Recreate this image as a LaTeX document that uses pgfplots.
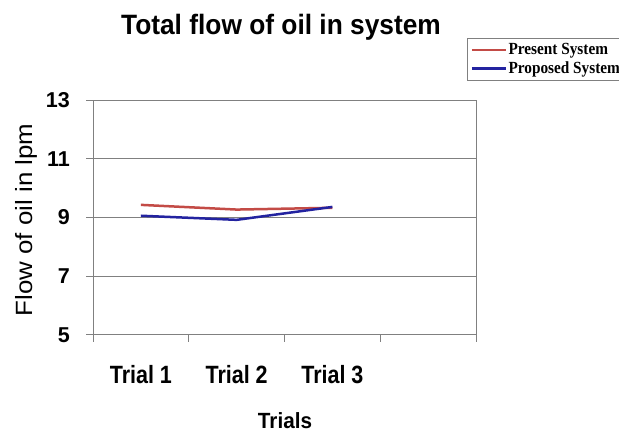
\documentclass[border=0pt]{standalone}
\usepackage{fontspec}
\usepackage{pgfplots}
\pgfplotsset{compat=1.18}
\setmainfont{Liberation Sans}
\newfontfamily\titlefont[FakeStretch=0.94]{Liberation Sans}
\newfontfamily\xtickfont[FakeStretch=0.86]{Liberation Sans}
\newfontfamily\ylabelfont[FakeStretch=1.1]{Liberation Sans}
\newfontfamily\legendfont[FakeStretch=0.9]{Liberation Serif}
\definecolor{present}{RGB}{195,75,70}
\definecolor{proposed}{RGB}{35,35,160}
\definecolor{axisgray}{RGB}{128,128,128}

\begin{document}
\begin{tikzpicture}
\begin{axis}[
  at={(93bp,104bp)}, anchor=south west,
  scale only axis, width=383bp, height=235bp,
  xmin=0, xmax=4, ymin=5, ymax=13,
  xtick={0,1,2,3,4}, xticklabels={},
  extra x ticks={0.5,1.5,2.5},
  extra x tick labels={Trial 1,Trial 2,Trial 3},
  extra x tick style={major tick length=0pt},
  ytick={5,7,9,11,13},
  ymajorgrids,
  grid style={axisgray, line width=1bp},
  axis line style={axisgray, line width=1bp},
  tick style={axisgray, line width=1bp},
  tick align=outside, major tick length=7bp, tick pos=left,
  /pgf/number format/assume math mode=true,
  xticklabel style={font=\xtickfont\bfseries\fontsize{25bp}{25bp}\selectfont,
    anchor=base, inner sep=0pt, yshift=-48bp},
  yticklabel style={font=\bfseries\fontsize{21.5bp}{21.5bp}\selectfont,
    anchor=east, inner sep=0pt, xshift=-16bp},
  legend style={at={(0.9765,1.2638)}, anchor=north west, draw=axisgray,
    fill=white, line width=1bp,
    font=\legendfont\bfseries\fontsize{17bp}{17bp}\selectfont,
    inner xsep=3bp, inner ysep=3.5bp, row sep=2.5bp,
    nodes={inner sep=1.5bp}},
  legend cell align=left,
  legend image code/.code={\draw[#1, line width=2.5bp] (0bp,0bp) -- (34bp,0bp);},
]
\addplot[present, line width=2.5bp] coordinates {(0.5,9.43) (1.5,9.27) (2.5,9.33)};
\addlegendentry{Present System}
\addplot[proposed, line width=2.5bp] coordinates {(0.5,9.06) (1.5,8.92) (2.5,9.36)};
\addlegendentry{Proposed System}
\end{axis}
\node[font=\titlefont\bfseries\fontsize{28bp}{28bp}\selectfont, anchor=base]
  at (281bp,404bp) {Total flow of oil in system};
\node[font=\ylabelfont\fontsize{23.5bp}{23.5bp}\selectfont, rotate=90, anchor=base]
  at (32bp,219bp) {Flow of oil in lpm};
\node[font=\titlefont\bfseries\fontsize{22bp}{22bp}\selectfont, anchor=base]
  at (285bp,11bp) {Trials};
\pgfresetboundingbox
\useasboundingbox (0bp,0bp) rectangle (619bp,439bp);
\end{tikzpicture}
\end{document}
